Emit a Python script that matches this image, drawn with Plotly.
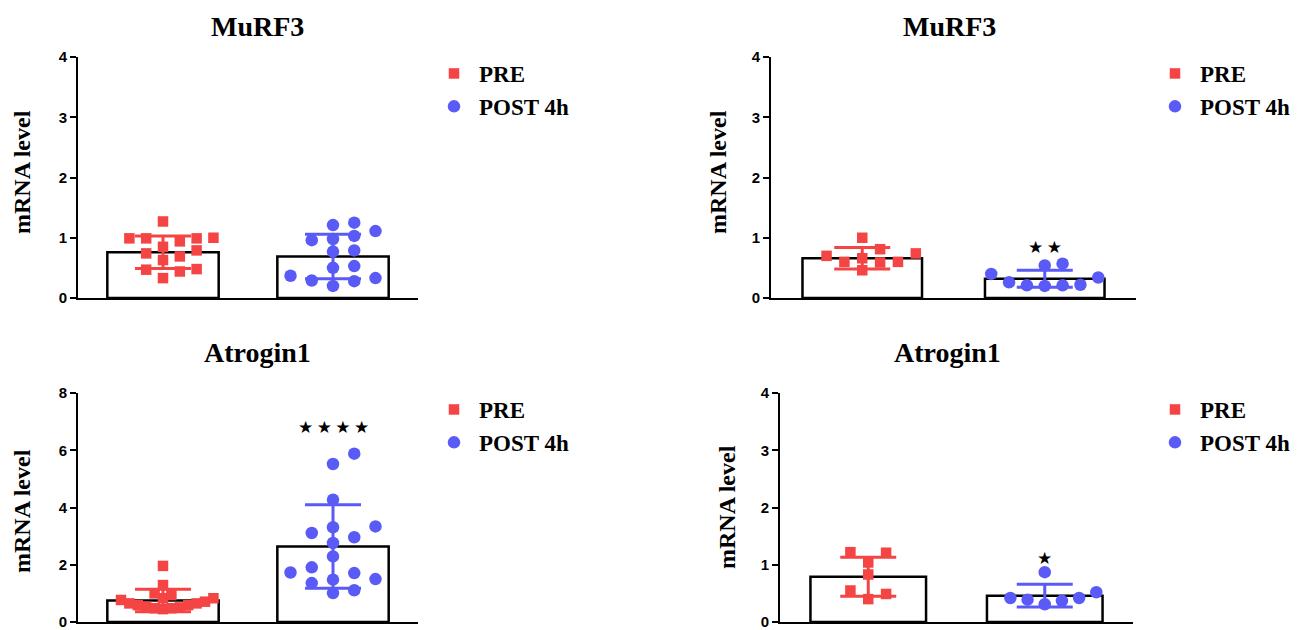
import numpy as np
import plotly.graph_objects as go

W, H = 1313, 630

# ---------------- data ----------------
groups = ["PRE", "POST 4h"]
titles = ["MuRF3", "MuRF3", "Atrogin1", "Atrogin1"]
y_max = [4, 4, 8, 4]
y_dtick = [1, 1, 2, 1]
stars = ["", "★\u2009★", "★\u2009★\u2009★\u2009★", "★"]
star_y = [0, 0.84, 6.8, 1.12]

murf3_a_pre = [0.99, 0.85, 0.69, 0.47, 0.33, 1.27, 0.99, 0.79, 0.94, 0.63, 0.44, 1.00, 0.74, 0.48, 0.99]
murf3_a_post = [1.03, 0.29, 1.25, 0.96, 0.77, 0.37, 0.98, 0.79, 0.50, 0.28, 1.21, 0.53, 0.33, 1.11, 0.20]
murf3_b_pre = [0.66, 0.74, 0.46, 1.00, 0.81, 0.60, 0.60, 0.59, 0.70]
murf3_b_post = [0.21, 0.54, 0.34, 0.40, 0.21, 0.57, 0.26, 0.20, 0.22]
atro_a_pre = [0.83, 0.51, 0.77, 0.65, 0.71, 0.45, 1.96, 0.94, 0.59, 0.48, 1.29, 0.54, 0.83, 0.48, 0.59, 1.00, 0.65]
atro_a_post = [3.34, 1.71, 1.36, 3.11, 2.76, 1.73, 1.01, 5.88, 5.52, 4.27, 2.29, 3.31, 2.96, 1.91, 1.48, 1.11, 1.50]
atro_b_pre = [0.40, 1.21, 1.04, 0.83, 0.55, 1.22, 0.49]
atro_b_post = [0.37, 0.42, 0.87, 0.39, 0.42, 0.52, 0.31]

points = [
    (murf3_a_pre, murf3_a_post),
    (murf3_b_pre, murf3_b_post),
    (atro_a_pre, atro_a_post),
    (atro_b_pre, atro_b_post),
]
bar_mean = [(0.76, 0.69), (0.66, 0.32), (0.75, 2.64), (0.79, 0.46)]
bar_sd = [(0.27, 0.37), (0.18, 0.14), (0.39, 1.46), (0.34, 0.20)]

# ---------------- style / layout ----------------
RED = "#F44444"
BLUE = "#5A5AF6"
colors = [RED, BLUE]
symbols = ["square", "circle"]
msize = [10.5, 12.5]

# panel boxes in pixels: x0, x1, top, bottom
boxes = [(78, 418, 57, 298), (771, 1136, 57, 298), (78, 418, 393, 622), (780, 1133, 393, 622)]
title_pos = [(257, 27), (949, 27), (257, 352), (947, 352)]
ytitle_pos = [(22, 172), (718, 172), (22, 511), (727, 507)]
legend_pos = [(429, 52), (1150, 52), (429, 388), (1150, 388)]
BAR_W = 0.655


def swarm(values, size, ppx, ppy, limit_px):
    v = np.asarray(values, float)
    order = np.argsort(v)
    sx, sy = 1.7 * size, 1.0 * size
    step = 0.5 * sx
    placed = []
    offs = np.zeros(len(v))
    for i in order:
        y = v[i] * ppy
        cands = [0.0]
        for j in range(1, 40):
            cands += [j * step, -j * step]
        for c in cands:
            ok = True
            for (px, py) in placed:
                if abs(px - c) < sx - 1e-6 and abs(py - y) < sy - 1e-6:
                    ok = False
                    break
            if ok:
                offs[i] = c
                placed.append((c, y))
                break
    m = np.max(np.abs(offs)) if len(offs) else 0
    if m > limit_px:
        offs *= limit_px / m
    return offs / ppx


fig = go.Figure()
annotations = []
layout_axes = {}

for p in range(4):
    n = p + 1
    xa = "x" if n == 1 else f"x{n}"
    ya = "y" if n == 1 else f"y{n}"
    lg = "legend" if n == 1 else f"legend{n}"
    x0, x1, t, b = boxes[p]
    ppx = (x1 - x0) / 2.0
    ppy = (b - t) / y_max[p]

    # bars
    fig.add_trace(go.Bar(
        x=[0, 1], y=list(bar_mean[p]), width=BAR_W,
        marker=dict(color="white", line=dict(color="black", width=2.5)),
        showlegend=False, xaxis=xa, yaxis=ya, hoverinfo="skip"))

    # points
    for g in range(2):
        vals = points[p][g]
        offs = swarm(vals, msize[g], ppx, ppy, BAR_W * ppx / 2 - msize[g] / 2)
        fig.add_trace(go.Scatter(
            x=g + offs, y=vals, mode="markers", name=groups[g],
            marker=dict(symbol=symbols[g], size=msize[g], color=colors[g], line=dict(width=0)),
            xaxis=xa, yaxis=ya, legend=lg))

    # error bars (mean ± SD)
    for g in range(2):
        fig.add_trace(go.Scatter(
            x=[g], y=[bar_mean[p][g]], mode="markers",
            marker=dict(size=0.1, color=colors[g], opacity=0),
            error_y=dict(type="data", array=[bar_sd[p][g]], color=colors[g], thickness=3, width=28),
            showlegend=False, xaxis=xa, yaxis=ya, hoverinfo="skip"))

    layout_axes["xaxis" if n == 1 else f"xaxis{n}"] = dict(
        domain=[x0 / W, x1 / W], range=[-0.5, 1.5], showline=True, linecolor="black",
        linewidth=2, ticks="", showticklabels=False, showgrid=False, zeroline=False,
        anchor=ya, fixedrange=True, automargin=False)
    layout_axes["yaxis" if n == 1 else f"yaxis{n}"] = dict(
        domain=[1 - b / H, 1 - t / H], range=[0, y_max[p]], dtick=y_dtick[p],
        showline=True, linecolor="black", linewidth=2, ticks="outside", ticklen=6,
        tickwidth=2, tickcolor="black", showgrid=False, zeroline=False, anchor=xa,
        tickfont=dict(family="Liberation Sans", size=15, color="black", weight="bold"),
        ticklabeloverflow="allow", fixedrange=True, automargin=False)

    layout_axes[lg] = dict(
        x=legend_pos[p][0] / W, y=1 - legend_pos[p][1] / H, xanchor="left", yanchor="top",
        bgcolor="rgba(0,0,0,0)", itemwidth=40,
        font=dict(family="Liberation Serif", size=23, color="black", weight="bold"))

    annotations.append(dict(
        text=titles[p], x=title_pos[p][0] / W, y=1 - title_pos[p][1] / H,
        xref="paper", yref="paper", showarrow=False, xanchor="center", yanchor="middle",
        font=dict(family="Liberation Serif", size=28, color="black", weight="bold")))
    annotations.append(dict(
        text="mRNA level", x=ytitle_pos[p][0] / W, y=1 - ytitle_pos[p][1] / H,
        xref="paper", yref="paper", showarrow=False, textangle=-90,
        xanchor="center", yanchor="middle",
        font=dict(family="Liberation Serif", size=24, color="black", weight="bold")))
    if stars[p]:
        annotations.append(dict(
            text=stars[p], x=1, y=star_y[p], xref=xa, yref=ya, showarrow=False,
            xanchor="center", yanchor="middle",
            font=dict(family="DejaVu Sans", size=17, color="black")))

fig.update_layout(
    width=W, height=H, margin=dict(l=0, r=0, t=0, b=0, autoexpand=False),
    paper_bgcolor="white", plot_bgcolor="white",
    annotations=annotations, barmode="overlay", **layout_axes)

fig.write_html("out.html")
